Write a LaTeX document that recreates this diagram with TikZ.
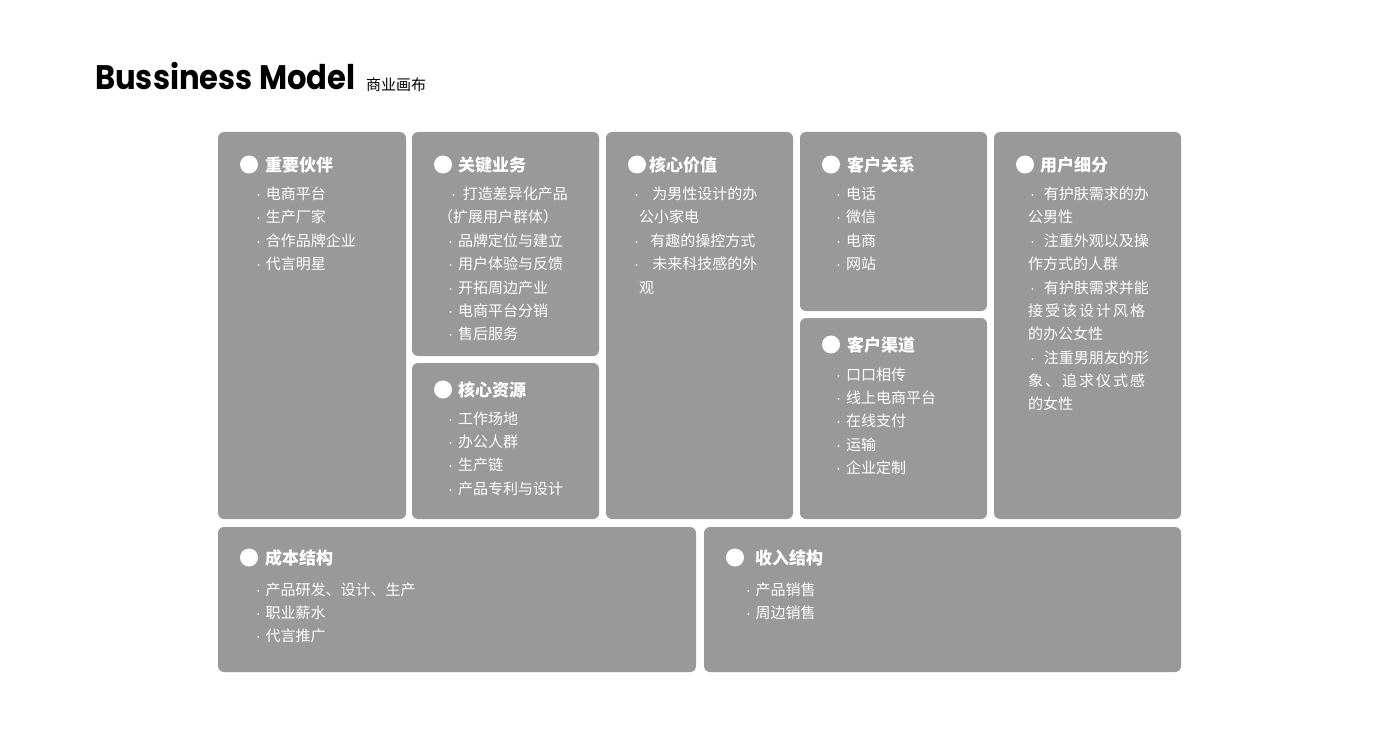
\documentclass[tikz,border=0pt]{standalone}
\usepackage{fontspec}
\newfontfamily\cjk{Noto Sans CJK SC}
\newfontfamily\titlefont{Poppins}
\newfontfamily\lat{Liberation Sans}
\definecolor{cardgray}{HTML}{999999}
\tikzset{
  card/.style={fill=cardgray, draw=none, rounded corners=6pt},
  bulletdisc/.style={circle, fill=white, draw=none, minimum size=18pt, inner sep=0pt},
  hd/.style={anchor=base west, inner sep=0pt, text=white, font=\cjk\bfseries\fontsize{17}{17}\selectfont},
  it/.style={anchor=base west, inner sep=0pt, text=white, font=\cjk\fontsize{15}{15}\selectfont},
}
\newcommand{\bul}[1][4.9pt]{{\lat ·}\hspace{#1}}
\newcommand{\spreadline}[2]{\makebox[#1][s]{#2}}
\begin{document}
\begin{tikzpicture}[x=1pt,y=-1pt]
\useasboundingbox (0,0) rectangle (1400,749);
\fill[white] (0,0) rectangle (1400,749);

% title
\node[anchor=base west, inner sep=0pt, font=\titlefont\bfseries\fontsize{34}{34}\selectfont] (title) at (95,90) {\scalebox{0.9}[1]{Bussiness Model}};
\node[anchor=base west, inner sep=0pt, font=\cjk\fontsize{15}{15}\selectfont] (subtitle) at (366,90.2) {商业画布};

% cards
\fill[card] (218,132) rectangle (406,519);
\fill[card] (412,132) rectangle (599,356);
\fill[card] (412,363) rectangle (599,519);
\fill[card] (606,132) rectangle (793,519);
\fill[card] (800,132) rectangle (987,311);
\fill[card] (800,318) rectangle (987,519);
\fill[card] (994,132) rectangle (1181,519);
\fill[card] (218,527) rectangle (696,672);
\fill[card] (704,527) rectangle (1181,672);

% --- 重要伙伴
\node[bulletdisc] (d1) at (249,164.5) {};
\node[hd] (h1) at (265,171.2) {重要伙伴};
\node[it] (a1) at (255.9,199.5) {\bul 电商平台};
\node[it] (a2) at (255.9,222.5) {\bul 生产厂家};
\node[it] (a3) at (255.9,246.5) {\bul 合作品牌企业};
\node[it] (a4) at (255.9,269.5) {\bul 代言明星};

% --- 关键业务
\node[bulletdisc] (d2) at (443,164.5) {};
\node[hd] (h2) at (458,171.2) {关键业务};
\node[it] (b1) at (450.9,199.5) {\bul[3.5pt] 打造差异化产品};
\node[it] (b2) at (438,222.5) {（扩展用户群体）};
\node[it] (b3) at (447.9,246.5) {\bul 品牌定位与建立};
\node[it] (b4) at (447.9,269.5) {\bul 用户体验与反馈};
\node[it] (b5) at (447.9,293.5) {\bul 开拓周边产业};
\node[it] (b6) at (447.9,316.5) {\bul 电商平台分销};
\node[it] (b7) at (447.9,339.5) {\bul 售后服务};

% --- 核心资源
\node[bulletdisc] (d3) at (443,389.5) {};
\node[hd] (h3) at (458,396.2) {核心资源};
\node[it] (c1) at (447.9,424.5) {\bul 工作场地};
\node[it] (c2) at (447.9,447.5) {\bul 办公人群};
\node[it] (c3) at (447.9,470.5) {\bul 生产链};
\node[it] (c4) at (447.9,494.5) {\bul 产品专利与设计};

% --- 核心价值
\node[bulletdisc] (d4) at (637,164.5) {};
\node[hd] (h4) at (649,171.2) {核心价值};
\node[it] (e1) at (633.9,199.5) {\bul[10pt] 为男性设计的办};
\node[it] (e2) at (639,222.5) {公小家电};
\node[it] (e3) at (633.9,246.5) {\bul[8pt] 有趣的操控方式};
\node[it] (e4) at (633.9,269.5) {\bul[10pt] 未来科技感的外};
\node[it] (e5) at (639,293.5) {观};

% --- 客户关系
\node[bulletdisc] (d5) at (831,164.5) {};
\node[hd] (h5) at (847,171.2) {客户关系};
\node[it] (f1) at (835.9,199.5) {\bul 电话};
\node[it] (f2) at (835.9,222.5) {\bul 微信};
\node[it] (f3) at (835.9,246.5) {\bul 电商};
\node[it] (f4) at (835.9,269.5) {\bul 网站};

% --- 客户渠道
\node[bulletdisc] (d6) at (831,344.5) {};
\node[hd] (h6) at (847,351.2) {客户渠道};
\node[it] (g1) at (835.9,380.5) {\bul 口口相传};
\node[it] (g2) at (835.9,403.5) {\bul 线上电商平台};
\node[it] (g3) at (835.9,426.5) {\bul 在线支付};
\node[it] (g4) at (835.9,450.5) {\bul 运输};
\node[it] (g5) at (835.9,473.5) {\bul 企业定制};

% --- 用户细分
\node[bulletdisc] (d7) at (1025,164.5) {};
\node[hd] (h7) at (1040,171.2) {用户细分};
\node[it] (k1) at (1029.9,199.5) {\bul[5.5pt] 有护肤需求的办};
\node[it] (k2) at (1028,222.5) {公男性};
\node[it] (k3) at (1029.9,246.5) {\bul[5.5pt] 注重外观以及操};
\node[it] (k4) at (1028,269.5) {作方式的人群};
\node[it] (k5) at (1029.9,293.5) {\bul[5.5pt] 有护肤需求并能};
\node[it] (k6) at (1028,316.5) {\spreadline{117pt}{接\hfill 受\hfill 该\hfill 设\hfill 计\hfill 风\hfill 格}};
\node[it] (k7) at (1028,339.5) {的办公女性};
\node[it] (k8) at (1029.9,363.5) {\bul[5.5pt] 注重男朋友的形};
\node[it] (k9) at (1028,386.5) {\spreadline{117pt}{象\hfill 、\hfill 追\hfill 求\hfill 仪\hfill 式\hfill 感}};
\node[it] (k10) at (1028,409.5) {的女性};

% --- 成本结构
\node[bulletdisc] (d8) at (249,557.5) {};
\node[hd] (h8) at (265,564.2) {成本结构};
\node[it] (m1) at (255.6,595.5) {\bul 产品研发、设计、生产};
\node[it] (m2) at (255.6,618.5) {\bul 职业薪水};
\node[it] (m3) at (255.6,641.5) {\bul 代言推广};

% --- 收入结构
\node[bulletdisc] (d9) at (735,557.5) {};
\node[hd] (h9) at (755,564.2) {收入结构};
\node[it] (r1) at (745.6,595.5) {\bul 产品销售};
\node[it] (r2) at (745.6,618.5) {\bul 周边销售};
\end{tikzpicture}
\end{document}
